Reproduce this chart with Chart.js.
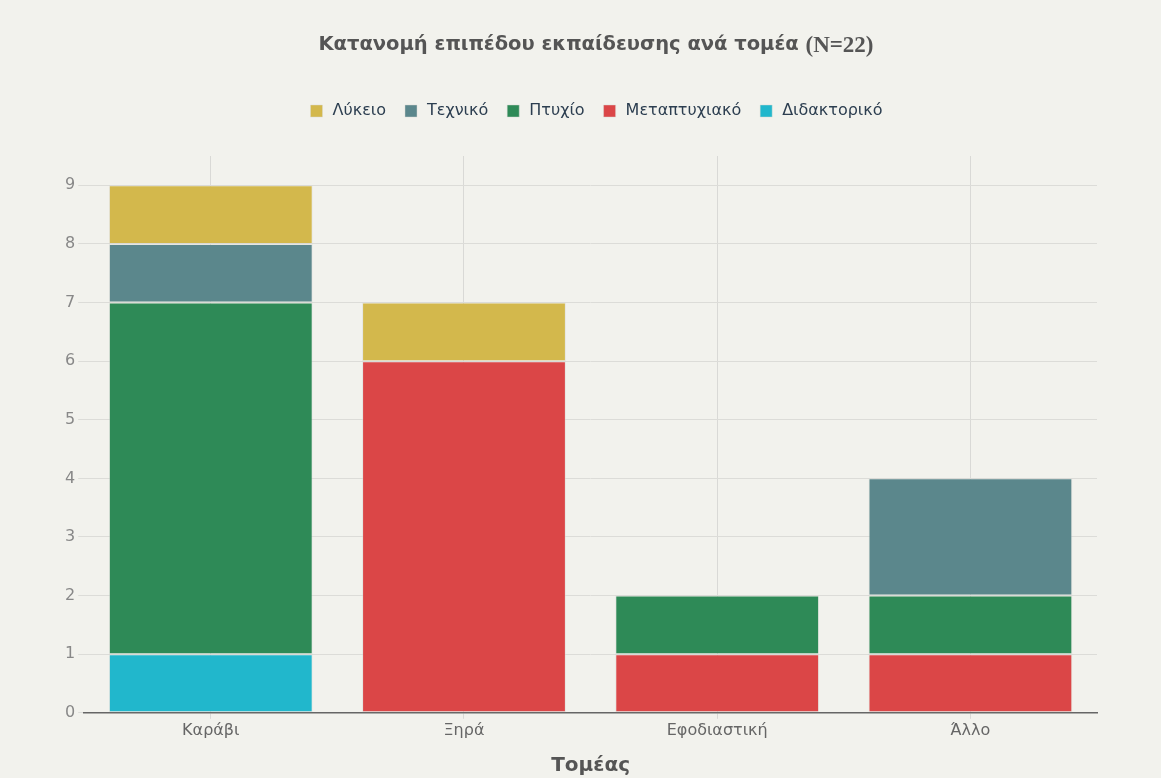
<!DOCTYPE html>
<html>
<head>
<meta charset="utf-8">
<script src="https://cdn.jsdelivr.net/npm/chart.js@4"></script>
<style>
  html, body { margin: 0; padding: 0; background: #f2f2ed; }
  #wrap { width: 1161px; height: 778px; position: relative; }
</style>
</head>
<body>
<div id="wrap"><canvas id="chart"></canvas></div>
<script>
const sectors = ["Καράβι", "Ξηρά", "Εφοδιαστική", "Άλλο"];

// stacked bottom to top
const doctorate = [1, 0, 0, 0];
const masters = [0, 6, 1, 1];
const degree = [6, 0, 1, 1];
const technical = [1, 0, 0, 2];
const lyceum = [1, 1, 0, 0];

const yTicks = [0, 1, 2, 3, 4, 5, 6, 7, 8, 9];

const titleMain = "Κατανομή επιπέδου εκπαίδευσης ανά τομέα ";
const titleCount = "(N=22)";

const font = "'DejaVu Sans', 'Noto Sans', sans-serif";

function ds(label, data, color) {
  return {
    label,
    data,
    backgroundColor: color,
    borderColor: "rgba(215, 215, 210, 0.45)",
    borderWidth: 1,
    borderSkipped: false,
    categoryPercentage: 1,
    barPercentage: 0.805,
  };
}

// title: sans-serif text followed by the count in a serif face
const titlePlugin = {
  id: "mixedTitle",
  afterDraw(chart) {
    const ctx = chart.ctx;
    const mainFont = "bold 19.5px " + font;
    const countFont = "bold 23px 'Liberation Serif', serif";
    ctx.save();
    ctx.font = mainFont;
    const w1 = ctx.measureText(titleMain).width;
    ctx.font = countFont;
    const w2 = ctx.measureText(titleCount).width;
    const x0 = 596 - (w1 + w2) / 2;
    const y = 45;
    ctx.fillStyle = "#555555";
    ctx.textBaseline = "middle";
    ctx.textAlign = "left";
    ctx.font = mainFont;
    ctx.fillText(titleMain, x0, y);
    ctx.font = countFont;
    ctx.fillText(titleCount, x0 + w1, y + 1);
    ctx.restore();
  },
};

// extra room under the legend row, and nudge the row right
const legendTweak = {
  id: "legendTweak",
  beforeInit(chart) {
    const legend = chart.legend;
    const fit = legend.fit;
    legend.fit = function () {
      fit.call(this);
      this.height += 27;
    };
    const draw = legend.draw;
    legend.draw = function () {
      const ctx = this.ctx;
      ctx.save();
      ctx.translate(16, 0);
      draw.call(this);
      ctx.restore();
    };
  },
};

new Chart(document.getElementById("chart"), {
  type: "bar",
  data: {
    labels: sectors,
    datasets: [
      ds("Διδακτορικό", doctorate, "#21b7cc"),
      ds("Μεταπτυχιακό", masters, "#db4647"),
      ds("Πτυχίο", degree, "#2e8a57"),
      ds("Τεχνικό", technical, "#5b878c"),
      ds("Λύκειο", lyceum, "#d3b84c"),
    ],
  },
  plugins: [titlePlugin, legendTweak],
  options: {
    responsive: true,
    maintainAspectRatio: false,
    animation: false,
    layout: { padding: { left: 62, right: 64, top: 86, bottom: 0 } },
    plugins: {
      legend: {
        reverse: true,
        labels: {
          color: "#2c3e50",
          font: { family: font, size: 16 },
          usePointStyle: true,
          pointStyle: "rect",
          boxWidth: 16,
          boxHeight: 12,
          padding: 17,
        },
      },
      tooltip: { enabled: true },
    },
    scales: {
      x: {
        stacked: true,
        grid: {
          offset: false,
          color: "#d9d9d6",
          tickColor: "#d9d9d6",
          tickLength: 6,
        },
        border: { color: "#666666", width: 1.5 },
        ticks: { color: "#666666", font: { family: font, size: 16 }, padding: 2 },
        title: {
          display: true,
          text: "Τομέας",
          color: "#555555",
          font: { family: font, size: 20, weight: "bold" },
          padding: { top: 12, bottom: 0 },
        },
      },
      y: {
        stacked: true,
        min: 0,
        max: 9.5,
        afterBuildTicks: (axis) => {
          axis.ticks = yTicks.map((v) => ({ value: v }));
        },
        grid: { color: "#dcdcd8", tickColor: "#dcdcd8", tickLength: 6 },
        border: { display: false },
        ticks: { color: "#888888", font: { family: font, size: 16 }, padding: 3 },
      },
    },
  },
});
</script>
</body>
</html>
